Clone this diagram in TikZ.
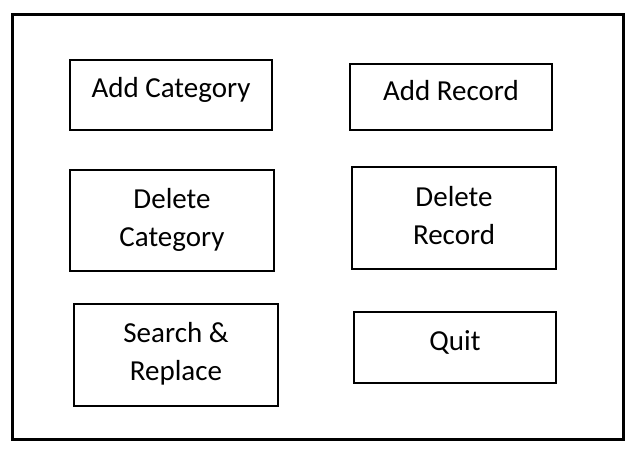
\documentclass[tikz,border=0pt]{standalone}
\usepackage{fontspec}
\setmainfont{Carlito}
\begin{document}
\begin{tikzpicture}[x=1pt,y=-1pt,
  menubox/.style={draw=black, line width=2pt, rectangle, inner sep=0pt},
  menutext/.style={font=\fontsize{29}{38}\selectfont, align=center, anchor=base, inner sep=0pt},
  frame/.style={draw=black, line width=3pt}]
  \useasboundingbox[fill=white] (0,0) rectangle (637,459);
  % outer window frame
  \draw[frame] (12.5,14.5) rectangle (623,439.5);
  % menu buttons
  \node[menubox, minimum width=202pt, minimum height=70pt] (addcat) at (171,95) {};
  \node[menubox, minimum width=202pt, minimum height=66pt] (addrec) at (451,96.5) {};
  \node[menubox, minimum width=204pt, minimum height=101pt] (delcat) at (172,220.5) {};
  \node[menubox, minimum width=204pt, minimum height=102pt] (delrec) at (454,218) {};
  \node[menubox, minimum width=204pt, minimum height=102pt] (search) at (176,355) {};
  \node[menubox, minimum width=202pt, minimum height=71pt] (quit) at (455,347.5) {};
  % button captions (base anchor sits on the last line)
  \node[menutext] (addcatT) at (171,97) {Add Category};
  \node[menutext] (addrecT) at (451,100.5) {Add Record};
  \node[menutext] (delcatT) at (172,246) {Delete\\Category};
  \node[menutext] (delrecT) at (454,244) {Delete\\Record};
  \node[menutext] (searchT) at (176,380) {Search \&\\Replace};
  \node[menutext] (quitT) at (455,350) {Quit};
\end{tikzpicture}
\end{document}
